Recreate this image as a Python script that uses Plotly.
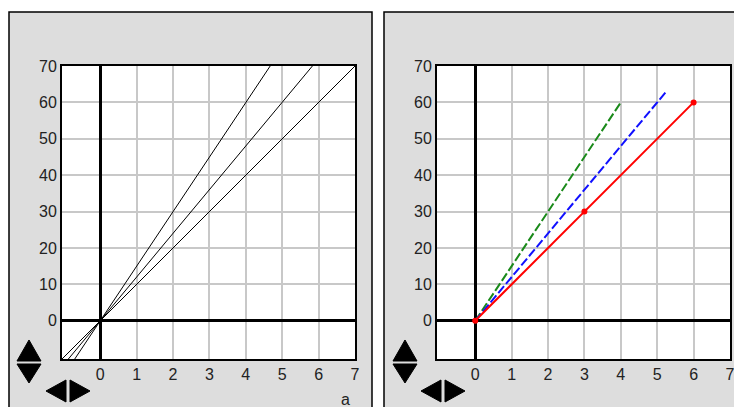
import plotly.graph_objects as go

W, H = 734, 407

# Left panel: three proportional lines (endpoints in a, value)
steep_a = [-0.70, 4.67]
steep_v = [-10.5, 70]
mid_a = [-0.875, 5.83]
mid_v = [-10.5, 70]
shallow_a = [-1.05, 7.0]
shallow_v = [-10.5, 70]

# Right panel: coloured series
red_a = [0, 3, 6]
red_v = [0, 30, 60]
blue_a = [0, 5.25]
blue_v = [0, 63]
green_a = [0, 2, 4]
green_v = [0, 30, 60]

x_ticks = [0, 1, 2, 3, 4, 5, 6, 7]
y_ticks = [0, 10, 20, 30, 40, 50, 60, 70]
x_range = [-1.05, 7.0]
y_range = [-10.5, 70]


def px(x):
    return x / W


def py(y):
    return 1 - y / H


fig = go.Figure()

for a, v in [(steep_a, steep_v), (mid_a, mid_v), (shallow_a, shallow_v)]:
    fig.add_trace(go.Scatter(x=a, y=v, mode="lines", xaxis="x", yaxis="y",
                             line=dict(color="black", width=1), showlegend=False))

fig.add_trace(go.Scatter(x=green_a, y=green_v, mode="lines", xaxis="x2", yaxis="y2",
                         line=dict(color="#1a8a1a", width=2, dash="9px,3px"), showlegend=False))
fig.add_trace(go.Scatter(x=blue_a, y=blue_v, mode="lines", xaxis="x2", yaxis="y2",
                         line=dict(color="#1010ff", width=2, dash="9px,3px"), showlegend=False))
fig.add_trace(go.Scatter(x=red_a, y=red_v, mode="lines+markers", xaxis="x2", yaxis="y2",
                         line=dict(color="#ff0000", width=2),
                         marker=dict(color="#ff0000", size=6), showlegend=False))

axis_common = dict(
    automargin=False,
    ticklabeloverflow="allow",
    showline=True, mirror=True, linecolor="black", linewidth=2,
    showgrid=True, gridcolor="#c8c8c8", gridwidth=2,
    zeroline=True, zerolinecolor="black", zerolinewidth=3,
    ticks="", tickfont=dict(family="Liberation Sans, Arial, sans-serif", size=16, color="#222"),
    fixedrange=True,
)

fig.update_layout(
    width=W, height=H,
    margin=dict(l=0, r=0, t=0, b=0, pad=0),
    paper_bgcolor="white",
    plot_bgcolor="rgba(0,0,0,0)",
    xaxis=dict(domain=[px(62), px(355)], range=x_range, tickvals=x_ticks,
               anchor="y", **axis_common),
    yaxis=dict(domain=[py(359), py(66)], range=y_range, tickvals=y_ticks,
               anchor="x", **axis_common),
    xaxis2=dict(domain=[px(437), px(730)], range=x_range, tickvals=x_ticks,
                anchor="y2", **axis_common),
    yaxis2=dict(domain=[py(359), py(66)], range=y_range, tickvals=y_ticks,
                anchor="x2", **axis_common),
)

shapes = []
# grey panel frames
for x0, x1 in [(9, 372), (384, 760)]:
    shapes.append(dict(type="rect", xref="paper", yref="paper", layer="below",
                       x0=px(x0), x1=px(x1), y0=py(430), y1=py(12),
                       fillcolor="#dddddd", line=dict(color="black", width=1.5)))
# white plotting areas
for x0, x1 in [(62, 355), (437, 730)]:
    shapes.append(dict(type="rect", xref="paper", yref="paper", layer="below",
                       x0=px(x0), x1=px(x1), y0=py(359), y1=py(66),
                       fillcolor="white", line=dict(width=0)))


def tri(points):
    d = "M " + " L ".join(f"{px(x):.5f},{py(y):.5f}" for x, y in points) + " Z"
    return dict(type="path", xref="paper", yref="paper", path=d,
                fillcolor="black", line=dict(color="black", width=1))


# pan controls drawn in each panel
for dx_v, dx_h in [(0, 0), (376, 375)]:
    shapes.append(tri([(17 + dx_v, 361), (29 + dx_v, 340), (41 + dx_v, 361)]))
    shapes.append(tri([(17 + dx_v, 364), (29 + dx_v, 383), (41 + dx_v, 364)]))
    shapes.append(tri([(66 + dx_h, 380), (46 + dx_h, 391), (66 + dx_h, 402)]))
    shapes.append(tri([(70 + dx_h, 380), (90 + dx_h, 391), (70 + dx_h, 402)]))

fig.update_layout(shapes=shapes)

fig.add_annotation(x=px(345), y=py(399), xref="paper", yref="paper", text="a",
                   showarrow=False, xanchor="center", yanchor="middle",
                   font=dict(family="Liberation Sans, Arial, sans-serif", size=16, color="#222"))

fig.write_html("out.html")
